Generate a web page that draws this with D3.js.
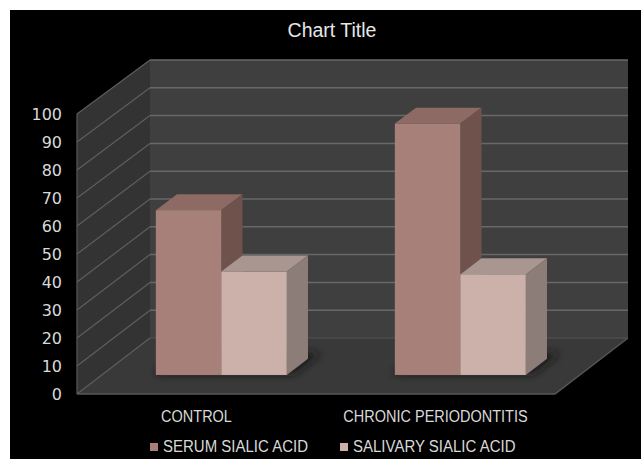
<!DOCTYPE html>
<html>
<head>
<meta charset="utf-8">
<script src="https://cdn.jsdelivr.net/npm/d3@7"></script>
<style>
  html, body { margin: 0; padding: 0; background: #ffffff; }
  svg { display: block; }
</style>
</head>
<body>
<svg id="chart" width="641" height="459"></svg>
<script>
// Chart data
const categories = ["CONTROL", "CHRONIC PERIODONTITIS"];
const seriesNames = ["SERUM SIALIC ACID", "SALIVARY SIALIC ACID"];
const serumValues = [59, 90];
const salivaryValues = [37, 36];
const yTicks = [0, 10, 20, 30, 40, 50, 60, 70, 80, 90, 100];
const chartTitle = "Chart Title";

const seriesValues = [serumValues, salivaryValues];
const seriesColors = [
  { front: "#a8807a", top: "#8d6a63", side: "#6e524b", key: "#a57f78" },
  { front: "#ccb1ab", top: "#aa9691", side: "#8c7d78", key: "#cdb0aa" }
];

const svg = d3.select("#chart");
const W = 641, H = 459;

// black chart area with a thin white margin at top/left
svg.append("rect").attr("x", 10).attr("y", 10).attr("width", W - 10).attr("height", H - 10).attr("fill", "#000");

const textFont = "'Liberation Sans', Arial, sans-serif";

// 3D box geometry: front plane and back plane of the plot volume
const front = { left: 77, right: 555, bottom: 394, top: 114 };
const depthX = 73, depthYBottom = 56, depthYTop = 54;

const yFront = d3.scaleLinear().domain([0, 100]).range([front.bottom, front.top]);
const yBack = d3.scaleLinear().domain([0, 100]).range([front.bottom - depthYBottom, front.top - depthYTop]);

// project a (front-plane x, value, depth 0..1) to screen
function P(xf, v, d) {
  return [xf + depthX * d, yFront(v) * (1 - d) + yBack(v) * d];
}

const x0 = d3.scaleBand().domain(categories).range([front.left, front.right]).paddingInner(0).paddingOuter(0);
const x1 = d3.scaleBand().domain(seriesNames).range([0, x0.bandwidth()]).paddingInner(0).paddingOuter(0.825);

const line = d3.line();
const poly = pts => line(pts) + "Z";

const g = svg.append("g");

// side wall
g.append("path")
  .attr("d", poly([P(front.left, 0, 0), P(front.left, 100, 0), P(front.left, 100, 1), P(front.left, 0, 1)]))
  .attr("fill", "#333333");

// back wall
g.append("path")
  .attr("d", poly([P(front.left, 0, 1), P(front.left, 100, 1), P(front.right, 100, 1), P(front.right, 0, 1)]))
  .attr("fill", "#3f3f3f");

// floor
g.append("path")
  .attr("d", poly([P(front.left, 0, 0), P(front.right, 0, 0), P(front.right, 0, 1), P(front.left, 0, 1)]))
  .attr("fill", "#393939");

// gridlines on the back wall and side wall
g.selectAll("line.grid-back").data(yTicks).join("line")
  .attr("class", "grid-back")
  .attr("x1", d => P(front.left, d, 1)[0]).attr("y1", d => P(front.left, d, 1)[1])
  .attr("x2", d => P(front.right, d, 1)[0]).attr("y2", d => P(front.right, d, 1)[1])
  .attr("stroke", d => d === 0 ? "#4c4c4c" : "#686868").attr("stroke-width", 1.5);

g.selectAll("line.grid-side").data(yTicks).join("line")
  .attr("class", "grid-side")
  .attr("x1", d => P(front.left, d, 0)[0]).attr("y1", d => P(front.left, d, 0)[1])
  .attr("x2", d => P(front.left, d, 1)[0]).attr("y2", d => P(front.left, d, 1)[1])
  .attr("stroke", "#5e5e5e").attr("stroke-width", 1.2);

// side wall front edge
g.append("line")
  .attr("x1", front.left).attr("y1", yFront(0)).attr("x2", front.left).attr("y2", yFront(100))
  .attr("stroke", "#5a5a5a").attr("stroke-width", 1.2);

// floor edges
g.append("path")
  .attr("d", line([P(front.left, 0, 0), P(front.right, 0, 0), P(front.right, 0, 1)]))
  .attr("fill", "none").attr("stroke", "#575757").attr("stroke-width", 1.5);

// soft shadows under the bars
const defs = svg.append("defs");
defs.append("filter").attr("id", "shadowBlur").attr("x", "-50%").attr("y", "-50%").attr("width", "200%").attr("height", "200%")
  .append("feGaussianBlur").attr("stdDeviation", 4);

const d0 = 0.34, d1 = 0.63;

const bars = [];
categories.forEach((c, ci) => {
  seriesNames.forEach((s, si) => {
    const xa = x0(c) + x1(s);
    bars.push({ c, s, si, v: seriesValues[si][ci], xa, xb: xa + x1.bandwidth() });
  });
});

const shadowG = g.append("g").attr("filter", "url(#shadowBlur)");
categories.forEach(c => {
  const xa = x0(c) + x1(seriesNames[0]);
  const xb = x0(c) + x1(seriesNames[1]) + x1.bandwidth();
  shadowG.append("path")
    .attr("d", poly([P(xa - 4, 0, d0 + 0.02), P(xb + 6, 0, d0 + 0.02), P(xb + 6, 0, d1 + 0.1), P(xa - 4, 0, d1 + 0.1)]))
    .attr("fill", "#151515").attr("opacity", 0.9);
});

// 3D bars, drawn left to right so each front face overlaps the previous side face
const barG = g.append("g");
bars.forEach(b => {
  const col = seriesColors[b.si];
  const bg = barG.append("g");
  // top face
  bg.append("path")
    .attr("d", poly([P(b.xa, b.v, d0), P(b.xb, b.v, d0), P(b.xb, b.v, d1), P(b.xa, b.v, d1)]))
    .attr("fill", col.top);
  // right side face
  bg.append("path")
    .attr("d", poly([P(b.xb, 0, d0), P(b.xb, b.v, d0), P(b.xb, b.v, d1), P(b.xb, 0, d1)]))
    .attr("fill", col.side);
  // front face
  const tl = P(b.xa, b.v, d0), br = P(b.xb, 0, d0);
  bg.append("rect")
    .attr("x", tl[0]).attr("y", tl[1]).attr("width", br[0] - tl[0]).attr("height", br[1] - tl[1])
    .attr("fill", col.front);
});

// y axis on the front edge of the side wall
const yAxis = d3.axisLeft(yFront).tickValues(yTicks).tickSize(0).tickPadding(15);
const yAxisG = svg.append("g").attr("transform", `translate(${front.left},0)`).call(yAxis);
yAxisG.select(".domain").remove();
yAxisG.selectAll("text")
  .attr("fill", "#d9d9d9")
  .style("font-family", "'DejaVu Sans', sans-serif")
  .style("font-size", "16px");

// category axis under the floor (slightly tall lettering)
const xAxis = d3.axisBottom(x0).tickSize(0).tickPadding(17);
const xAxisG = svg.append("g").attr("transform", `translate(0,${front.bottom})`).call(xAxis);
xAxisG.select(".domain").remove();
xAxisG.selectAll("text")
  .attr("y", 0).attr("dy", 0)
  .attr("transform", "translate(0,28) scale(1,1.12)")
  .attr("fill", "#d9d9d9")
  .style("font-family", textFont)
  .style("font-size", "14.5px");

// title
svg.append("text")
  .attr("x", 332).attr("y", 37)
  .attr("text-anchor", "middle")
  .attr("fill", "#e6e6e6")
  .style("font-family", textFont)
  .style("font-size", "19.5px")
  .text(chartTitle);

// legend
const legendX = [150, 340];
const legend = svg.append("g");
seriesNames.forEach((s, i) => {
  legend.append("rect")
    .attr("x", legendX[i]).attr("y", 443).attr("width", 8).attr("height", 8)
    .attr("fill", seriesColors[i].key);
  legend.append("text")
    .attr("transform", `translate(${legendX[i] + 13},452) scale(1,1.15)`)
    .attr("fill", "#d9d9d9")
    .style("font-family", textFont)
    .style("font-size", "15px")
    .text(s);
});
</script>
</body>
</html>
